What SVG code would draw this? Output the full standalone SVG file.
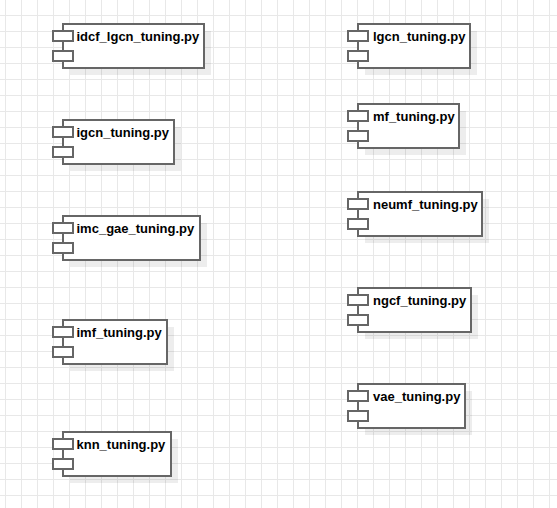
<svg xmlns="http://www.w3.org/2000/svg" width="557" height="508" viewBox="0 0 557 508">
<style>
.body{fill:#fff;stroke:#666;stroke-width:2}
.jetty{fill:#fff;stroke:#666;stroke-width:2}
.shadow{fill:#000;fill-opacity:0.07}
.lbl{font-family:"Liberation Sans",Arial,sans-serif;font-size:13px;font-weight:bold;fill:#000}
</style>
<defs>
<pattern id="grid" patternUnits="userSpaceOnUse" x="5" y="15" width="16" height="16">
<rect x="0" y="0" width="16" height="1" fill="#e8e8e8"/>
<rect x="0" y="0" width="1" height="16" fill="#e8e8e8"/>
</pattern>
</defs>
<rect width="557" height="508" fill="#fff"/>
<rect width="557" height="508" fill="url(#grid)"/>
<g id="connectors"/>
<g id="idcf_lgcn_tuning">
<rect class="shadow" x="70" y="31" width="141" height="44"/>
<rect class="body" x="63" y="24" width="141" height="44"/>
<rect class="jetty" x="53" y="31" width="20" height="10"/>
<rect class="jetty" x="53" y="51" width="20" height="10"/>
<text class="lbl" x="76.5" y="40.5">idcf_lgcn_tuning.py</text>
</g>
<g id="igcn_tuning">
<rect class="shadow" x="70" y="127" width="111" height="44"/>
<rect class="body" x="63" y="120" width="111" height="44"/>
<rect class="jetty" x="53" y="127" width="20" height="10"/>
<rect class="jetty" x="53" y="147" width="20" height="10"/>
<text class="lbl" x="76.5" y="136.5">igcn_tuning.py</text>
</g>
<g id="imc_gae_tuning">
<rect class="shadow" x="70" y="223" width="137" height="44"/>
<rect class="body" x="63" y="216" width="137" height="44"/>
<rect class="jetty" x="53" y="223" width="20" height="10"/>
<rect class="jetty" x="53" y="243" width="20" height="10"/>
<text class="lbl" x="76.5" y="232.5">imc_gae_tuning.py</text>
</g>
<g id="imf_tuning">
<rect class="shadow" x="70" y="327" width="104" height="44"/>
<rect class="body" x="63" y="320" width="104" height="44"/>
<rect class="jetty" x="53" y="327" width="20" height="10"/>
<rect class="jetty" x="53" y="347" width="20" height="10"/>
<text class="lbl" x="76.5" y="336.5">imf_tuning.py</text>
</g>
<g id="knn_tuning">
<rect class="shadow" x="70" y="439" width="108" height="44"/>
<rect class="body" x="63" y="432" width="108" height="44"/>
<rect class="jetty" x="53" y="439" width="20" height="10"/>
<rect class="jetty" x="53" y="459" width="20" height="10"/>
<text class="lbl" x="76.5" y="448.5">knn_tuning.py</text>
</g>
<g id="lgcn_tuning">
<rect class="shadow" x="365" y="31" width="112" height="44"/>
<rect class="body" x="358" y="24" width="112" height="44"/>
<rect class="jetty" x="348" y="31" width="20" height="10"/>
<rect class="jetty" x="348" y="51" width="20" height="10"/>
<text class="lbl" x="373" y="40.5">lgcn_tuning.py</text>
</g>
<g id="mf_tuning">
<rect class="shadow" x="365" y="111" width="101" height="44"/>
<rect class="body" x="358" y="104" width="101" height="44"/>
<rect class="jetty" x="348" y="111" width="20" height="10"/>
<rect class="jetty" x="348" y="131" width="20" height="10"/>
<text class="lbl" x="373" y="120.5">mf_tuning.py</text>
</g>
<g id="neumf_tuning">
<rect class="shadow" x="365" y="199" width="124" height="44"/>
<rect class="body" x="358" y="192" width="124" height="44"/>
<rect class="jetty" x="348" y="199" width="20" height="10"/>
<rect class="jetty" x="348" y="219" width="20" height="10"/>
<text class="lbl" x="373" y="208.5">neumf_tuning.py</text>
</g>
<g id="ngcf_tuning">
<rect class="shadow" x="365" y="295" width="113" height="44"/>
<rect class="body" x="358" y="288" width="113" height="44"/>
<rect class="jetty" x="348" y="295" width="20" height="10"/>
<rect class="jetty" x="348" y="315" width="20" height="10"/>
<text class="lbl" x="373" y="304.5">ngcf_tuning.py</text>
</g>
<g id="vae_tuning">
<rect class="shadow" x="365" y="391" width="107" height="44"/>
<rect class="body" x="358" y="384" width="107" height="44"/>
<rect class="jetty" x="348" y="391" width="20" height="10"/>
<rect class="jetty" x="348" y="411" width="20" height="10"/>
<text class="lbl" x="373" y="400.5">vae_tuning.py</text>
</g>
</svg>
